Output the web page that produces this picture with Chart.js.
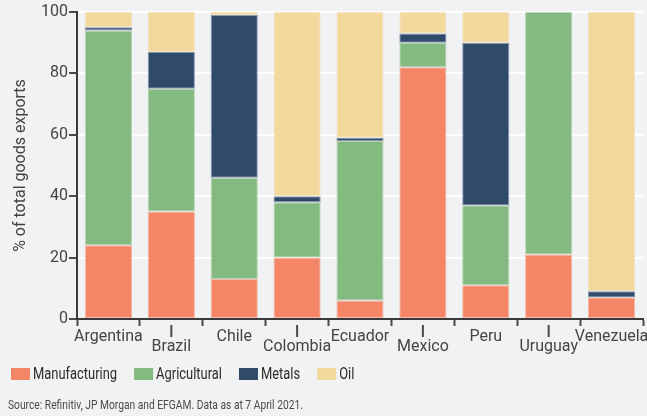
<!DOCTYPE html>
<html>
<head>
<meta charset="utf-8">
<script src="https://cdn.jsdelivr.net/npm/chart.js@4.4.1/dist/chart.umd.min.js"></script>
<style>
    html, body { margin: 0; padding: 0; background: #f1f2f4; }
    #wrap { width: 647px; height: 416px; position: relative; }
</style>
</head>
<body>
<div id="wrap"><canvas id="chart"></canvas></div>
<script>
const countries = ["Argentina", "Brazil", "Chile", "Colombia", "Ecuador", "Mexico", "Peru", "Uruguay", "Venezuela"];
const manufacturing = [24, 35, 13, 20, 6, 82, 11, 21, 7];
const agricultural = [70, 40, 33, 18, 52, 8, 26, 79, 0];
const metals = [1, 12, 53, 2, 1, 3, 53, 0, 2];
const oil = [5, 13, 1, 60, 41, 7, 10, 0, 91];
const yTicks = [0, 20, 40, 60, 80, 100];
const sourceNote = "Source: Refinitiv, JP Morgan and EFGAM. Data as at 7 April 2021.";

const series = [
    { label: "Manufacturing", data: manufacturing, color: "#f48567" },
    { label: "Agricultural", data: agricultural, color: "#84ba7f" },
    { label: "Metals", data: metals, color: "#2f4a6b" },
    { label: "Oil", data: oil, color: "#f2d89c" },
];

const tickFont = "Roboto, 'Liberation Sans', sans-serif";
const squeeze = 0.76; // the footer text in the original is a condensed face

// longer tick marks under the labels that sit on the second row
const longTicks = {
    id: "longTicks",
    afterDraw(chart) {
        const scale = chart.scales.x;
        const ctx = chart.ctx;
        ctx.save();
        ctx.strokeStyle = "#4a4a4a";
        ctx.lineWidth = 2;
        scale.ticks.forEach((tick, index) => {
            if (index % 2 === 1) {
                const x = scale.getPixelForTick(index);
                ctx.beginPath();
                ctx.moveTo(x, scale.top + 6);
                ctx.lineTo(x, scale.top + 18);
                ctx.stroke();
            }
        });
        ctx.restore();
    },
};

// legend row and source line below the axis
const footer = {
    id: "footer",
    afterDraw(chart) {
        const ctx = chart.ctx;
        ctx.save();
        ctx.textBaseline = "middle";
        let x = 11;
        const y = 374;
        chart.data.datasets.forEach((dataset) => {
            ctx.fillStyle = dataset.backgroundColor;
            ctx.fillRect(x, y - 6, 19, 12);
            ctx.font = "17px " + tickFont;
            const textWidth = ctx.measureText(dataset.label).width * squeeze;
            ctx.save();
            ctx.translate(x + 22, y + 1);
            ctx.scale(squeeze, 1);
            ctx.fillStyle = "#2b2b2b";
            ctx.fillText(dataset.label, 0, 0);
            ctx.restore();
            x += 22 + textWidth + 17;
        });
        ctx.translate(8, 406);
        ctx.scale(squeeze, 1);
        ctx.font = "13.5px " + tickFont;
        ctx.fillStyle = "#4a4a4a";
        ctx.fillText(sourceNote, 0, 0);
        ctx.restore();
    },
};

new Chart(document.getElementById("chart"), {
    type: "bar",
    data: {
        labels: countries,
        datasets: series.map((s) => ({
            label: s.label,
            data: s.data,
            backgroundColor: s.color,
            borderColor: s.color + "88",
            borderWidth: 1,
            borderSkipped: false,
            barPercentage: 0.75,
            categoryPercentage: 1,
        })),
    },
    options: {
        responsive: true,
        maintainAspectRatio: false,
        animation: false,
        layout: { padding: { top: 12, right: 4, bottom: 55, left: 0 } },
        plugins: {
            legend: { display: false },
            tooltip: { enabled: false },
        },
        scales: {
            x: {
                stacked: true,
                grid: { drawOnChartArea: false, drawTicks: true, tickLength: 7, tickColor: "#4a4a4a", tickWidth: 2 },
                border: { display: true, color: "#3a3a3a", width: 2 },
                ticks: {
                    color: "#444",
                    padding: 6,
                    autoSkip: false,
                    maxRotation: 0,
                    minRotation: 0,
                    font: { family: tickFont, size: 16, lineHeight: 0.625 },
                    callback: (value, index) => (index % 2 ? ["", countries[index]] : countries[index]),
                },
                afterFit(scale) {
                    scale.height = 42;
                    scale.paddingLeft = 0;
                    scale.paddingRight = 0;
                },
            },
            y: {
                stacked: true,
                min: 0,
                max: 100,
                afterBuildTicks(scale) {
                    scale.ticks = yTicks.map((value) => ({ value }));
                },
                grid: { color: "#ffffff", lineWidth: 2, drawTicks: true, tickLength: 8, tickColor: "#4a4a4a", tickWidth: 2 },
                border: { display: true, color: "#3a3a3a", width: 2 },
                ticks: { color: "#444", padding: 1, font: { family: tickFont, size: 16 } },
                title: {
                    display: true,
                    text: "% of total goods exports",
                    color: "#444",
                    font: { family: tickFont, size: 16 },
                    padding: { top: 11, bottom: 0 },
                },
                afterFit(scale) {
                    scale.width = 77;
                },
            },
        },
    },
    plugins: [longTicks, footer],
});
</script>
</body>
</html>
